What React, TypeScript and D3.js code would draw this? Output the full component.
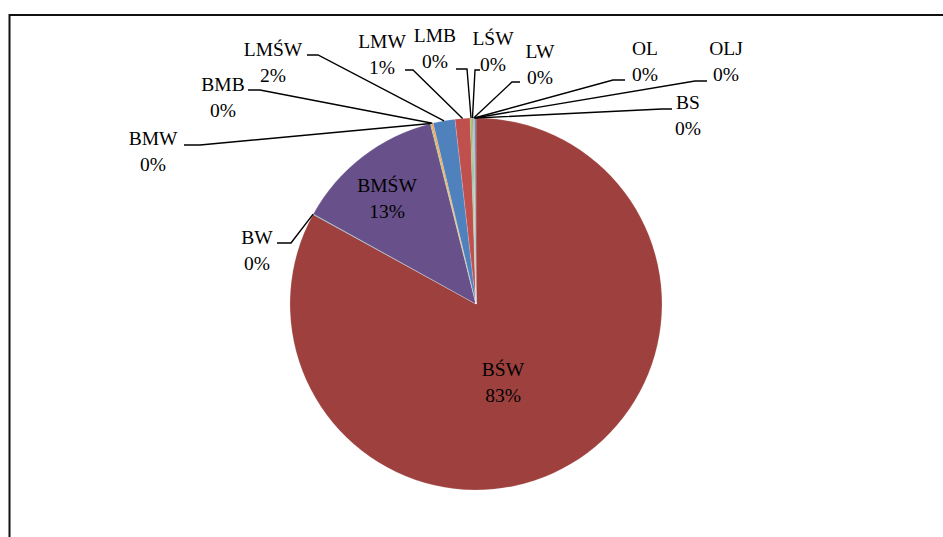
import React from "react";
import * as d3 from "d3";

// ---- data ----
const categories = ["BŚW", "BW", "BMŚW", "BMW", "BMB", "LMŚW", "LMW", "LMB", "LŚW", "LW", "OL", "OLJ", "BS"];
const values = [83.0, 0.05, 13.0, 0.1, 0.15, 1.9, 1.3, 0.15, 0.1, 0.1, 0.02, 0.03, 0.1];
const percentLabels = ["83%", "0%", "13%", "0%", "0%", "2%", "1%", "0%", "0%", "0%", "0%", "0%", "0%"];

// ---- styles / layout ----
const colors = ["#9E413E", "#4BACC6", "#68508A", "#9BBB59", "#F79646", "#4F81BD", "#C0504D", "#9BBB59", "#4BACC6", "#F79646", "#2C4D75", "#772C2A", "#4F81BD"];

const W = 943;
const H = 537;
const cx = 476;
const cy = 304;
const R = 186;

// label layout: text center x, first baseline y, leader (x1 -> x2 horizontal at ly) or none
type LabelPos = { x: number; y: number; leader?: [number, number, number] };
const labelLayout: Record<string, LabelPos> = {
  "BŚW": { x: 503, y: 376 },
  "BMŚW": { x: 387, y: 192 },
  "BW": { x: 257, y: 244, leader: [277, 291, 243] },
  "BMW": { x: 153, y: 145, leader: [184, 200, 145] },
  "BMB": { x: 223, y: 91, leader: [248, 260, 90] },
  "LMŚW": { x: 273, y: 56, leader: [307, 318, 55] },
  "LMW": { x: 382, y: 48, leader: [405, 413, 70] },
  "LMB": { x: 435, y: 42, leader: [456, 467, 69] },
  "LŚW": { x: 493, y: 45, leader: [480, 475, 70] },
  "LW": { x: 540, y: 58, leader: [520, 512, 82] },
  "OL": { x: 645, y: 55, leader: [625, 613, 80] },
  "OLJ": { x: 726, y: 55, leader: [707, 695, 81] },
  "BS": { x: 688, y: 109, leader: [672, 662, 109] },
};

export default function App() {
  const data = categories.map((c, i) => ({ name: c, value: values[i], label: percentLabels[i], color: colors[i] }));
  const pie = d3.pie<any>().sort(null).value((d) => d.value).startAngle(0).endAngle(2 * Math.PI);
  const arcs = pie(data);
  const arc = d3.arc<any>().innerRadius(0).outerRadius(R);

  return (
    <svg width={W} height={H} style={{ position: "absolute", left: 0, top: 0, background: "#fff" }}>
      <rect x={9.5} y={15} width={1200} height={1000} fill="#fff" stroke="#111" strokeWidth={2} />
      <g transform={`translate(${cx},${cy})`}>
        {arcs.map((a, i) => (
          <path key={i} d={arc(a) as string} fill={a.data.color} stroke="#ffffff" strokeOpacity={0.35} strokeWidth={0.5} />
        ))}
      </g>
      {arcs.map((a, i) => {
        const pos = labelLayout[a.data.name];
        if (!pos || !pos.leader) return null;
        const mid = (a.startAngle + a.endAngle) / 2;
        const px = cx + R * Math.sin(mid);
        const py = cy - R * Math.cos(mid);
        const [x1, x2, ly] = pos.leader;
        return (
          <polyline key={"l" + i} points={`${x1},${ly} ${x2},${ly} ${px},${py}`} fill="none" stroke="#000" strokeWidth={1.4} />
        );
      })}
      {arcs.map((a, i) => {
        const pos = labelLayout[a.data.name];
        if (!pos) return null;
        return (
          <text key={"t" + i} textAnchor="middle" fontFamily="'Liberation Serif', 'DejaVu Serif', serif" fontSize={19.5} fill="#000">
            <tspan x={pos.x} y={pos.y}>{a.data.name}</tspan>
            <tspan x={pos.x} y={pos.y + 26}>{a.data.label}</tspan>
          </text>
        );
      })}
    </svg>
  );
}
